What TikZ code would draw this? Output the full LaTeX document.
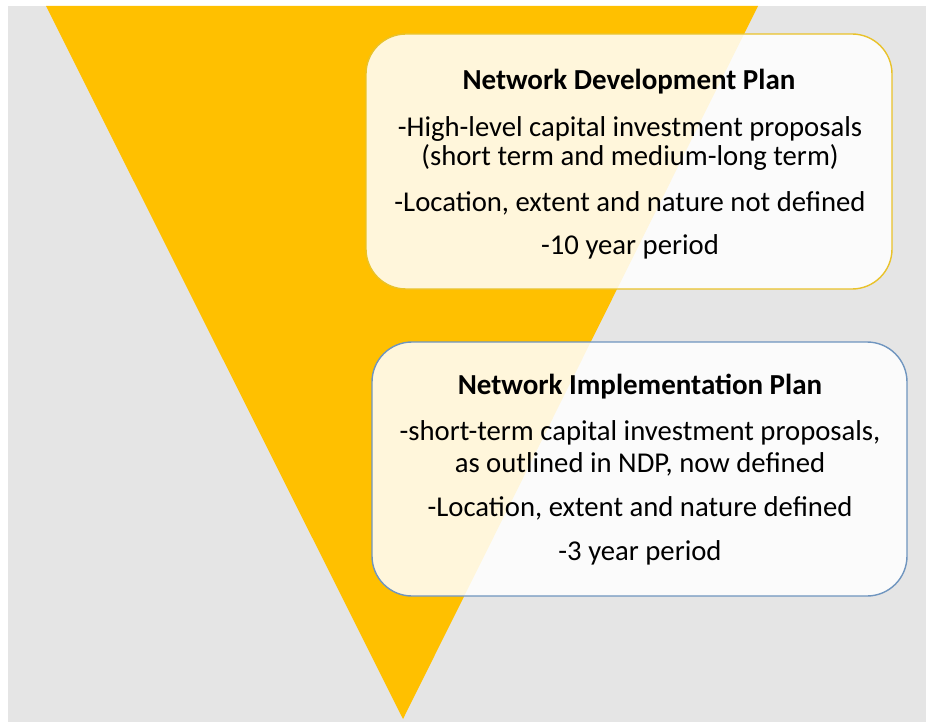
\documentclass[tikz,border=0pt]{standalone}
\usepackage{fontspec}
\setmainfont{Carlito}
\definecolor{bggray}{HTML}{E5E5E5}
\definecolor{tri}{HTML}{FFC000}
\definecolor{goldline}{HTML}{E9C22A}
\definecolor{blueline}{HTML}{6F95BF}
\begin{document}
\begin{tikzpicture}[x=1pt,y=-1pt,
  planbox/.style={rounded corners=40pt, fill=white, fill opacity=0.86, line width=1.4pt},
  ttl/.style={font=\fontsize{29}{34}\selectfont\bfseries, anchor=center, inner sep=0pt},
  body/.style={font=\fontsize{28.7}{33}\selectfont, anchor=center, inner sep=0pt}]
\useasboundingbox (0,0) rectangle (926,722);
\fill[white] (0,0) rectangle (926,722);
\fill[bggray] (8,6) rectangle (926,722);
\fill[tri] (46,6) -- (758,6) -- (403,719) -- cycle;
% box 1
\draw[planbox, draw=goldline] (366,34) rectangle (892,289);
\node[ttl] (t1) at (629,82) {Network Development Plan};
\node[body] (a1) at (630,129) {-High-level capital investment proposals};
\node[body] (a2) at (630,157) {(short term and medium-long term)};
\node[body] (a3) at (630,203) {-Location, extent and nature not defined};
\node[body] (a4) at (630,247) {-10 year period};
% box 2
\draw[planbox, draw=blueline] (372,342) rectangle (907,596);
\node[ttl] (t2) at (640,387) {Network Implementation Plan};
\node[body] (b1) at (640,433) {-short-term capital investment proposals,};
\node[body] (b2) at (640,464) {as outlined in NDP, now defined};
\node[body] (b3) at (640,508) {-Location, extent and nature defined};
\node[body] (b4) at (640,553) {-3 year period};
\end{tikzpicture}
\end{document}
